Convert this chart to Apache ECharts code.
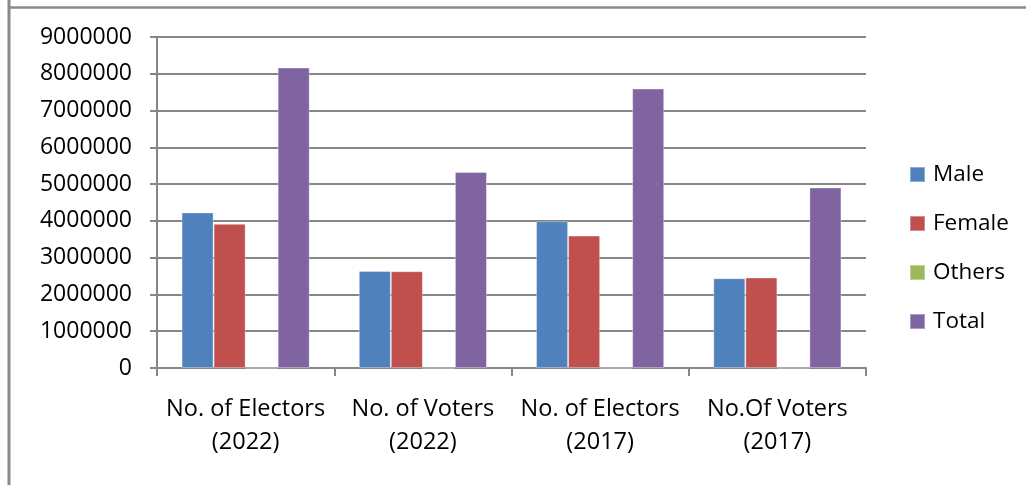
<!DOCTYPE html>
<html>
<head>
<meta charset="utf-8">
<script src="https://cdn.jsdelivr.net/npm/echarts@6/dist/echarts.min.js"></script>
<style>
html,body{margin:0;padding:0;background:#fff;}
#chart{width:1026px;height:485px;}
</style>
</head>
<body>
<div id="chart"></div>
<script>
const categories = ["No. of Electors\n(2022)", "No. of Voters\n(2022)", "No. of Electors\n(2017)", "No.Of Voters\n(2017)"];
const seriesNames = ["Male", "Female", "Others", "Total"];
const male   = [4230000, 2640000, 3990000, 2440000];
const female = [3920000, 2630000, 3600000, 2460000];
const others = [294, 100, 237, 80];
const total  = [8170000, 5330000, 7600000, 4910000];
const colors = ["#4F81BD", "#C0504D", "#9BBB59", "#8064A2"];

const FONT = "Open Sans";
const chart = echarts.init(document.getElementById('chart'));
const values = [male, female, others, total];
chart.setOption({
  animation: false,
  color: colors,
  textStyle: {fontFamily: FONT},
  graphic: [
    {type: 'line', shape: {x1: 9, y1: 0, x2: 9, y2: 485}, style: {stroke: '#8a8a8a', lineWidth: 3}},
    {type: 'line', shape: {x1: 8, y1: 7.5, x2: 1026, y2: 7.5}, style: {stroke: '#8a8a8a', lineWidth: 2.5}}
  ],
  grid: {left: 157, right: 160, top: 37, bottom: 117, containLabel: false},
  legend: {
    orient: 'vertical',
    left: 904,
    top: 158,
    itemWidth: 15,
    itemHeight: 15,
    itemGap: 26,
    icon: 'rect',
    data: seriesNames,
    textStyle: {fontFamily: FONT, fontSize: 22.5, color: '#000', lineHeight: 22, padding: [0, 0, 0, 3]}
  },
  xAxis: {
    type: 'category',
    data: categories,
    axisLine: {lineStyle: {color: '#868686', width: 2}},
    axisTick: {show: true, length: 8, alignWithLabel: false, lineStyle: {color: '#868686', width: 2}},
    axisLabel: {fontFamily: FONT, fontSize: 23.5, color: '#000', lineHeight: 33, margin: 25, interval: 0}
  },
  yAxis: {
    type: 'value',
    min: 0,
    max: 9000000,
    interval: 1000000,
    axisLine: {show: true, lineStyle: {color: '#868686', width: 2}},
    axisTick: {show: true, length: 7, lineStyle: {color: '#868686', width: 2}},
    splitLine: {show: true, lineStyle: {color: '#868686', width: 2}},
    axisLabel: {fontFamily: FONT, fontSize: 23, color: '#000', margin: 25, formatter: v => String(v)}
  },
  series: seriesNames.map((n, i) => ({
    name: n,
    type: 'bar',
    data: values[i],
    barGap: '0%',
    barCategoryGap: '27.7%',
    itemStyle: {color: colors[i], borderColor: 'rgba(255,255,255,0.35)', borderWidth: 1}
  }))
});
</script>
</body>
</html>
